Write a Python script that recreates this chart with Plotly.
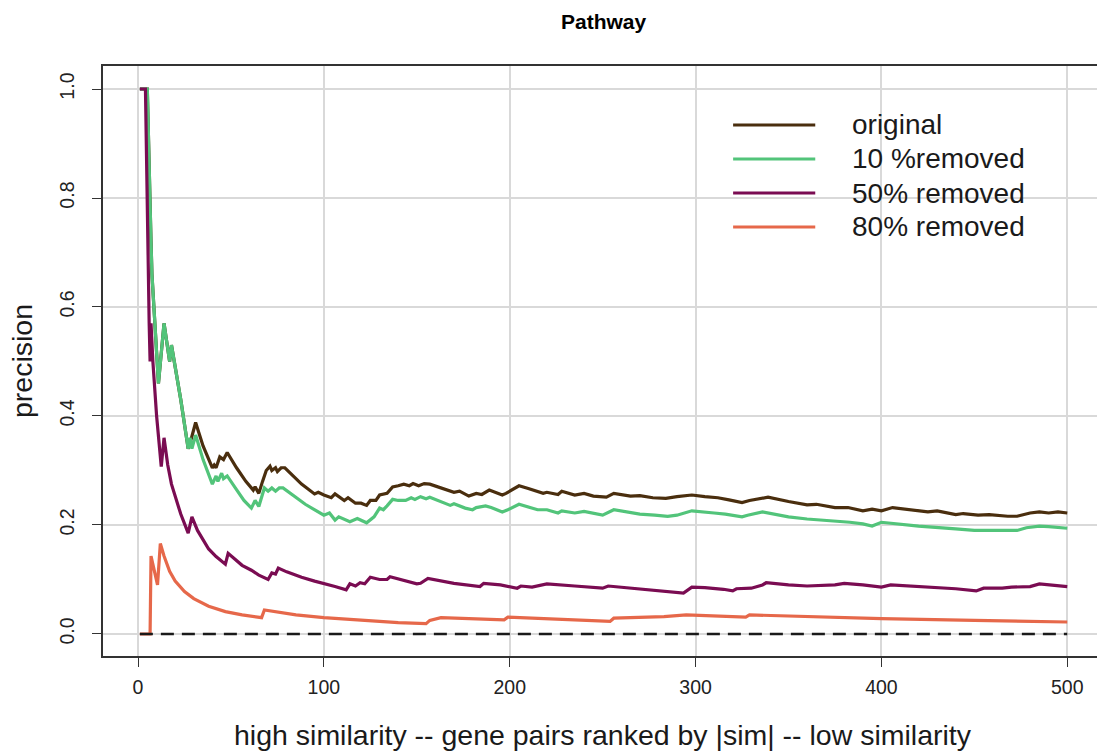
import plotly.graph_objects as go

# ---------------- data ----------------
orig_x = [1, 5, 7, 7.5, 11, 14, 17, 18, 23, 27, 28, 31, 35, 40, 41, 42, 44, 46, 48, 53, 58, 62, 63, 65, 67, 69, 71, 72, 74, 75, 77, 79,
          88, 95, 97, 100, 104, 106, 111, 113, 117, 120, 123, 125, 128, 130, 134, 137, 140, 143, 146, 148, 151, 154, 157,
          165, 170, 173, 178, 182, 185, 189, 192, 196, 198, 205, 210, 218, 220, 226, 228, 235, 240, 245, 252, 256, 265,
          270, 277, 284, 290, 298, 305, 312, 318, 325, 329, 339, 350, 360, 365, 375, 382, 390, 395, 400, 406, 415, 425,
          430, 440, 444, 452, 458, 468, 473, 480, 485, 490, 495, 500]
orig_y = [1.0, 1.0, 0.72, 0.66, 0.46, 0.57, 0.50, 0.53, 0.43, 0.34, 0.35, 0.388, 0.345, 0.305, 0.31, 0.305, 0.325, 0.32, 0.333, 0.305, 0.28, 0.264, 0.27, 0.258, 0.28, 0.30, 0.308, 0.30, 0.305, 0.298, 0.305, 0.305,
          0.275, 0.257, 0.26, 0.255, 0.25, 0.257, 0.245, 0.25, 0.24, 0.24, 0.236, 0.245, 0.245, 0.255, 0.258, 0.27, 0.272, 0.275, 0.272, 0.276, 0.272, 0.276, 0.275,
          0.265, 0.26, 0.262, 0.253, 0.258, 0.256, 0.264, 0.26, 0.255, 0.258, 0.272, 0.267, 0.258, 0.26, 0.256, 0.262, 0.255, 0.258, 0.253, 0.251, 0.258, 0.253,
          0.254, 0.25, 0.249, 0.252, 0.255, 0.252, 0.25, 0.246, 0.241, 0.245, 0.251, 0.243, 0.237, 0.238, 0.232, 0.232, 0.226, 0.229, 0.226, 0.232, 0.228, 0.224,
          0.226, 0.219, 0.221, 0.218, 0.219, 0.216, 0.216, 0.222, 0.224, 0.222, 0.224, 0.222]

r10_x = [1, 5, 7, 7.5, 11, 14, 17, 18, 23, 27, 28, 29, 31, 35, 40, 42, 43, 45, 46, 48, 53, 57, 61, 63, 65, 68, 70, 72, 74, 76, 78,
         90, 100, 103, 106, 108, 114, 118, 123, 127, 130, 132, 134, 137, 140, 144, 147, 149, 152, 155, 157, 168, 170, 176,
         180, 182, 187, 190, 196, 199, 205, 215, 220, 226, 228, 235, 240, 250, 256, 270, 278, 285, 290, 298, 310, 316,
         325, 328, 336, 350, 360, 375, 383, 390, 395, 400, 420, 440, 450, 460, 473, 478, 485, 490, 500]
r10_y = [1.0, 1.0, 0.72, 0.66, 0.46, 0.57, 0.50, 0.53, 0.43, 0.34, 0.36, 0.34, 0.365, 0.32, 0.275, 0.29, 0.28, 0.295, 0.285, 0.29, 0.265, 0.245, 0.231, 0.245, 0.234, 0.268, 0.262, 0.268, 0.262, 0.268, 0.268,
         0.238, 0.218, 0.222, 0.209, 0.215, 0.206, 0.212, 0.204, 0.215, 0.231, 0.228, 0.235, 0.247, 0.245, 0.245, 0.25, 0.247, 0.252, 0.248, 0.251, 0.236, 0.239, 0.231,
         0.228, 0.232, 0.235, 0.232, 0.224, 0.228, 0.238, 0.228, 0.228, 0.222, 0.226, 0.222, 0.225, 0.218, 0.228, 0.22, 0.218, 0.216, 0.218, 0.226, 0.222, 0.22,
         0.215, 0.218, 0.224, 0.215, 0.211, 0.208, 0.205, 0.202, 0.198, 0.205, 0.198, 0.193, 0.19, 0.19, 0.19, 0.195, 0.198, 0.197, 0.194]

r50_x = [1, 4, 6, 6.5, 7, 8, 10, 12.5, 14, 16, 18, 20, 23, 27, 29, 32, 35, 38, 42, 47, 48.5, 52, 56, 61, 65, 70, 72, 74, 75.5, 80,
         88, 95, 101, 106, 112, 114, 117, 119.5, 122, 125, 130, 134, 135.6, 145, 150, 152, 156, 170, 184, 186, 195, 204,
         206, 212, 220, 235, 250, 253, 270, 285, 293.5, 298, 305, 315, 320, 322, 330, 336, 338, 350, 360, 375, 380, 390,
         400, 405, 420, 440, 451, 455, 465, 470, 480, 485, 500]
r50_y = [1.0, 1.0, 0.57, 0.50, 0.57, 0.50, 0.40, 0.307, 0.36, 0.31, 0.275, 0.252, 0.22, 0.185, 0.215, 0.19, 0.172, 0.156, 0.142, 0.128, 0.148, 0.137, 0.126, 0.117, 0.108, 0.10, 0.112, 0.11, 0.121, 0.114,
         0.104, 0.097, 0.092, 0.087, 0.081, 0.092, 0.088, 0.094, 0.092, 0.104, 0.10, 0.10, 0.105, 0.097, 0.092, 0.093, 0.102, 0.093, 0.087, 0.093, 0.09, 0.084,
         0.088, 0.086, 0.092, 0.088, 0.084, 0.088, 0.082, 0.078, 0.075, 0.086, 0.085, 0.082, 0.079, 0.083, 0.084, 0.09, 0.094, 0.09, 0.088, 0.09, 0.093, 0.09,
         0.086, 0.09, 0.087, 0.083, 0.079, 0.084, 0.084, 0.086, 0.087, 0.092, 0.087]

r80_x = [1, 6.5, 7, 10.5, 12, 14, 17, 20, 25, 30, 38, 47, 56, 66.5, 68, 75, 85, 100, 120, 140, 155, 157, 163, 180, 197, 199,
         220, 254, 256, 274, 283, 295, 310, 327, 329, 400, 450, 500]
r80_y = [0.0, 0.0, 0.143, 0.09, 0.166, 0.143, 0.115, 0.097, 0.078, 0.065, 0.051, 0.041, 0.035, 0.030, 0.044, 0.04, 0.035, 0.03, 0.025, 0.021, 0.019, 0.025, 0.03, 0.028, 0.026, 0.031,
         0.028, 0.023, 0.029, 0.031, 0.032, 0.035, 0.033, 0.031, 0.035, 0.028, 0.025, 0.022]

base_x = [1, 500]
base_y = [0, 0]

series_names = ["original", "10 %removed", "50% removed", "80% removed"]
series_colors = ["#4a2e0e", "#52c47a", "#7a0c52", "#e6684a"]

x_ticks = [0, 100, 200, 300, 400, 500]
y_ticks = [0.0, 0.2, 0.4, 0.6, 0.8, 1.0]
y_tick_text = ["0.0", "0.2", "0.4", "0.6", "0.8", "1.0"]

title_text = "Pathway"
x_title = "high similarity -- gene pairs ranked by |sim| -- low similarity"
y_title = "precision"

# ---------------- figure ----------------
FONT = "Liberation Sans, Arial, Helvetica, sans-serif"
fig = go.Figure()

data = [(orig_x, orig_y), (r10_x, r10_y), (r50_x, r50_y), (r80_x, r80_y)]
for (xs, ys), name, col in zip(data, series_names, series_colors):
    fig.add_trace(go.Scatter(x=xs, y=ys, mode="lines", name=name,
                             line=dict(color=col, width=3.2), showlegend=False,
                             hoverinfo="skip"))

fig.add_trace(go.Scatter(x=base_x, y=base_y, mode="lines", showlegend=False,
                         line=dict(color="#1a1a1a", width=2.6, dash="13px,8px"),
                         hoverinfo="skip"))

# manual legend (R style)
leg_y = [0.934, 0.8716, 0.809, 0.747]
for yy, name, col in zip(leg_y, series_names, series_colors):
    fig.add_shape(type="line", xref="x", yref="y", x0=320.2, x1=364.4, y0=yy, y1=yy,
                  line=dict(color=col, width=3))
    fig.add_annotation(xref="x", yref="y", x=383.0, y=yy, text=name, showarrow=False,
                       xanchor="left", yanchor="middle",
                       font=dict(family=FONT, size=28, color="#1a1a1a"))

fig.add_annotation(xref="paper", yref="paper", x=0.504, y=1.0746, text="<b>" + title_text + "</b>",
                   showarrow=False, xanchor="center", yanchor="middle",
                   font=dict(family=FONT, size=21, color="#000000"))
fig.add_annotation(xref="paper", yref="paper", x=0.503, y=-0.134, text=x_title,
                   showarrow=False, xanchor="center", yanchor="middle",
                   font=dict(family=FONT, size=28.5, color="#1a1a1a"))
fig.add_annotation(xref="paper", yref="paper", x=-0.0815, y=0.5, text=y_title, textangle=-90,
                   showarrow=False, xanchor="center", yanchor="middle",
                   font=dict(family=FONT, size=28.5, color="#1a1a1a"))

fig.update_xaxes(range=[-18.84, 516.0], tickvals=x_ticks, ticks="outside", ticklen=9, tickwidth=1.3,
                 tickcolor="#333333", showline=True, linecolor="#333333", linewidth=1.5, mirror=True,
                 showgrid=True, gridcolor="#d9d9d9", gridwidth=1.5, zeroline=False,
                 tickfont=dict(family=FONT, size=19.5, color="#222222"), ticklabelstandoff=4)
fig.update_yaxes(range=[-0.0404, 1.0422], tickvals=y_ticks, ticktext=y_tick_text, tickangle=-90,
                 ticks="outside", ticklen=9, tickwidth=1.3, tickcolor="#333333",
                 showline=True, linecolor="#333333", linewidth=1.5, mirror=False,
                 showgrid=True, gridcolor="#d9d9d9", gridwidth=1.5, zeroline=False,
                 tickfont=dict(family=FONT, size=19.5, color="#222222"), ticklabelstandoff=10)

fig.update_layout(width=1097, height=755, margin=dict(l=103, r=0, t=66, b=99),
                  paper_bgcolor="white", plot_bgcolor="white", showlegend=False)

fig.write_html("out.html")
